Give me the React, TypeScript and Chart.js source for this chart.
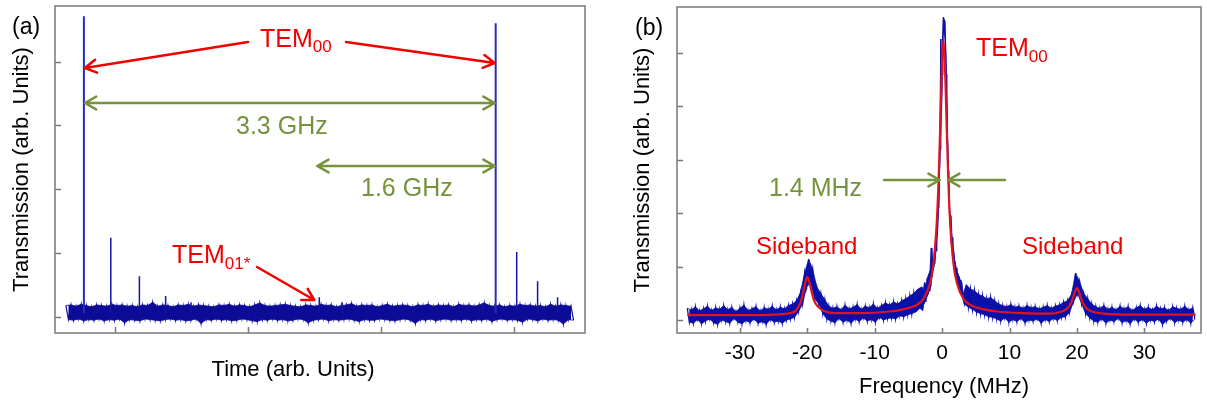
import React, { useEffect, useRef } from 'react';
import { Chart, registerables } from 'chart.js';

Chart.register(...registerables);

const FONT = '"Liberation Sans", Arial, Helvetica, sans-serif';
const RED = '#F20000';
const GREEN = '#76923C';
const FRAME = '#7A7A7A';
const NAVY_A = '#0C0C98';
const NAVY_B = '#0B10A8';

// ---------------- Panel (a): transmission vs time ----------------
const timeTicks = [1, 2, 3, 4];
const transTicksA = [0, 1, 2, 3, 4];
const timeRange = [0.551, 4.532];
const transRangeA = [-0.25, 4.87];
const noiseSpanA = [0.633, 4.446];
const noiseA = [
  0.18, -0.04, 0.19, -0.05, 0.17, -0.03, 0.2, -0.06, 0.18, -0.04, 0.16, -0.05, 0.19, -0.03, 0.18, -0.06, 0.17, -0.04, 0.2, -0.05,
  0.18, -0.03, 0.19, -0.09, 0.17, -0.04, 0.18, -0.05, 0.16, -0.06, 0.19, -0.03, 0.18, -0.04, 0.23, -0.05, 0.17, -0.06, 0.19, -0.04,
  0.18, -0.03, 0.16, -0.05, 0.19, -0.04, 0.18, -0.06, 0.2, -0.05, 0.17, -0.03, 0.19, -0.1, 0.18, -0.04, 0.17, -0.05, 0.16, -0.03,
  0.19, -0.05, 0.18, -0.04, 0.2, -0.06, 0.17, -0.05, 0.19, -0.03, 0.18, -0.04, 0.16, -0.06, 0.19, -0.07, 0.22, -0.04, 0.18, -0.05,
  0.17, -0.03, 0.18, -0.05, 0.19, -0.04, 0.2, -0.06, 0.18, -0.05, 0.17, -0.03, 0.16, -0.04, 0.19, -0.09, 0.18, -0.05, 0.17, -0.04,
  0.2, -0.03, 0.18, -0.06, 0.19, -0.04, 0.16, -0.05, 0.18, -0.04, 0.19, -0.03, 0.21, -0.05, 0.17, -0.07, 0.19, -0.04, 0.18, -0.05,
  0.19, -0.05, 0.16, -0.03, 0.18, -0.04, 0.2, -0.05, 0.17, -0.06, 0.18, -0.04, 0.19, -0.03, 0.18, -0.05, 0.16, -0.1, 0.19, -0.04,
  0.18, -0.05, 0.2, -0.03, 0.17, -0.06, 0.19, -0.04, 0.18, -0.03, 0.19, -0.05, 0.16, -0.04, 0.2, -0.05, 0.18, -0.03, 0.19, -0.06,
  0.17, -0.04, 0.19, -0.05, 0.22, -0.03, 0.18, -0.07, 0.17, -0.04, 0.19, -0.03, 0.16, -0.05, 0.18, -0.04, 0.17, -0.05, 0.2, -0.08,
  0.18, -0.03, 0.19, -0.04, 0.17, -0.06, 0.18, -0.03, 0.16, -0.05, 0.2, -0.04, 0.17, -0.05, 0.19, -0.11, 0.18, -0.04, 0.17, -0.05,
];
const tem00Times = [0.768, 3.861];
const tem00Heights = [4.71, 4.6];
const modeTimes = [0.97, 1.185, 1.382, 1.573, 2.536, 2.708, 3.764, 4.019, 4.176, 4.326];
const modeHeights = [1.24, 0.64, 0.33, 0.23, 0.31, 0.23, 0.22, 1.02, 0.56, 0.31];
const spikeBase = 0.06;

// ---------------- Panel (b): transmission vs frequency ----------------
const freqTicks = [-30, -20, -10, 0, 10, 20, 30];
const transTicksB = [0, 1, 2, 3, 4, 5];
const freqRange = [-39.33, 38.41];
const transRangeB = [-0.243, 5.86];
const blueLeftGrid = [-37.8, 0.3];
const blueLeft = [
  0.22, -0.04, 0.19, -0.06, 0.25, 0.01, 0.17, -0.07, 0.21, -0.02,
  0.26, 0.02, 0.18, -0.05, 0.23, -0.08, 0.2, 0.0, 0.27, -0.03,
  0.19, -0.06, 0.24, 0.03, 0.16, -0.04, 0.22, -0.07, 0.28, -0.01,
  0.18, -0.05, 0.21, 0.02, 0.25, -0.06, 0.17, -0.03, 0.23, -0.08,
  0.2, 0.01, 0.26, -0.04, 0.19, -0.02, 0.24, -0.06, 0.21, 0.0,
  0.27, 0.02, 0.3, 0.05, 0.36,
  0.16, 0.52, 0.3, 0.88, 0.62, 1.14, 0.7, 0.95, 0.4, 0.62, 0.3, 0.5, 0.12, 0.38, 0.02,
  0.26, -0.02, 0.22, -0.05, 0.25, 0.03, 0.19, -0.04, 0.28, 0.0,
  0.21, -0.06, 0.24, 0.02, 0.29, -0.03, 0.2, 0.04, 0.26, -0.02,
  0.23, 0.01, 0.3, -0.04, 0.22, 0.05, 0.27, 0.0, 0.32, 0.03,
  0.28, 0.04, 0.34, 0.02, 0.3, 0.08, 0.36, 0.06, 0.4, 0.1, 0.45, 0.12, 0.5, 0.15, 0.58, 0.22, 0.62,
];
const blueCenterGrid = [-3.0, 0.1];
const blueCenter = [
  0.62, 0.18, 0.55, 0.3, 0.7, 0.35, 0.66, 0.42, 0.78, 0.48,
  0.85, 0.55, 0.92, 0.62, 1.35, 0.8, 1.1, 0.95, 1.2, 1.05,
  1.4, 1.3, 1.75, 1.6, 2.25, 2.1, 2.8, 3.2, 5.26, 3.9,
  4.6, 5.3, 5.67, 5.45, 5.6, 5.2, 4.6, 4.1, 3.4, 2.8,
  2.5, 2.05, 1.8, 1.95, 1.4, 1.55, 1.15, 1.3, 0.95, 1.1,
  0.8, 0.98, 0.7, 0.88, 0.62, 0.82, 0.55, 0.75, 0.48, 0.7,
  0.45,
];
const blueRightGrid = [3.3, 0.3];
const blueRight = [
  0.3, 0.66, 0.24, 0.58, 0.2, 0.55, 0.15, 0.48, 0.12, 0.45, 0.1, 0.4, 0.06, 0.42, 0.05, 0.36,
  0.02, 0.3, -0.02, 0.27, 0.04, 0.25, -0.04, 0.29, 0.01, 0.24,
  -0.03, 0.26, 0.03, 0.22, -0.05, 0.27, 0.0, 0.23, -0.02, 0.25,
  0.02, 0.21, -0.06, 0.24, 0.01, 0.27, -0.03, 0.22, 0.03, 0.26,
  -0.01, 0.28, 0.05, 0.33,
  0.06, 0.36, 0.14, 0.48, 0.34, 0.88, 0.5, 0.72, 0.3, 0.5, 0.12, 0.4, 0.04, 0.3, -0.02,
  0.25, -0.04, 0.22, 0.02, 0.27, -0.06, 0.2, 0.0, 0.24, -0.03,
  0.19, 0.03, 0.26, -0.05, 0.21, -0.01, 0.25, -0.07, 0.18, 0.02,
  0.23, -0.04, 0.27, 0.01, 0.2, -0.06, 0.24, 0.0, 0.19, -0.03,
  0.26, 0.02, 0.21, -0.08, 0.23, -0.02, 0.18, 0.03, 0.25, -0.05,
  0.22, 0.0, 0.2, -0.04, 0.26, 0.01, 0.19, -0.06, 0.23, 0.02,
];
const fitFreq = [
  -37.8, -32, -28, -25, -23, -22, -21.5, -21, -20.6, -20.3, -20, -19.7, -19.4, -19, -18.5,
  -17.5, -16, -12, -7.8, -5.8, -3.8, -2.8, -1.8, -1.3, -0.8, -0.5, -0.2, 0, 0.2, 0.4,
  0.6, 0.9, 1.2, 1.7, 2.2, 3.2, 4.2, 6.2, 8.2, 12, 16, 17.5, 18.5, 19, 19.4,
  19.7, 20, 20.3, 20.6, 21, 21.5, 22.5, 24, 28, 37.6,
];
const fitValue = [
  0.09, 0.09, 0.09, 0.1, 0.12, 0.15, 0.21, 0.33, 0.52, 0.7, 0.81, 0.71, 0.55, 0.37, 0.26,
  0.17, 0.13, 0.13, 0.16, 0.2, 0.28, 0.39, 0.69, 1.04, 1.81, 2.69, 3.98, 4.85, 5.24, 4.85,
  3.98, 2.69, 1.81, 1.04, 0.69, 0.39, 0.28, 0.2, 0.16, 0.13, 0.12, 0.15, 0.21, 0.29, 0.41,
  0.53, 0.6, 0.53, 0.41, 0.29, 0.21, 0.15, 0.12, 0.1, 0.1,
];
const fitCenter = 0.2;
const fitHalfWidth = 0.7;

// ---------------- helpers ----------------
type Pt = { x: number; y: number | null };
function gridSeries(grid: number[], vals: number[]): Pt[] {
  return vals.map((v, i) => ({ x: grid[0] + i * grid[1], y: v }));
}
function spanSeries(span: number[], vals: number[]): Pt[] {
  const step = (span[1] - span[0]) / (vals.length - 1);
  return vals.map((v, i) => ({ x: span[0] + i * step, y: v }));
}
function parity(pts: Pt[], p: number): Pt[] {
  return pts.filter((_, i) => i % 2 === p);
}
function spikeSeries(times: number[], heights: number[]): Pt[] {
  const out: Pt[] = [];
  times.forEach((t, i) => {
    out.push({ x: t, y: spikeBase }, { x: t, y: heights[i] }, { x: t, y: spikeBase }, { x: t, y: null });
  });
  return out;
}

function head(ctx: CanvasRenderingContext2D, x1: number, y1: number, x2: number, y2: number) {
  const len = 13;
  const ang = 0.52;
  const a = Math.atan2(y2 - y1, x2 - x1);
  ctx.moveTo(x2 - len * Math.cos(a - ang), y2 - len * Math.sin(a - ang));
  ctx.lineTo(x2, y2);
  ctx.lineTo(x2 - len * Math.cos(a + ang), y2 - len * Math.sin(a + ang));
}
function arrow(ctx: CanvasRenderingContext2D, x1: number, y1: number, x2: number, y2: number, color: string, both = false) {
  ctx.save();
  ctx.strokeStyle = color;
  ctx.lineWidth = 2.5;
  ctx.lineCap = 'round';
  ctx.lineJoin = 'round';
  ctx.beginPath();
  ctx.moveTo(x1, y1);
  ctx.lineTo(x2, y2);
  head(ctx, x1, y1, x2, y2);
  if (both) head(ctx, x2, y2, x1, y1);
  ctx.stroke();
  ctx.restore();
}
function label(ctx: CanvasRenderingContext2D, s: string, x: number, y: number, size: number, color: string, align: CanvasTextAlign = 'left') {
  ctx.save();
  ctx.font = `${size}px ${FONT}`;
  ctx.fillStyle = color;
  ctx.textAlign = align;
  ctx.textBaseline = 'alphabetic';
  ctx.fillText(s, x, y);
  const w = ctx.measureText(s).width;
  ctx.restore();
  return w;
}
function tem(ctx: CanvasRenderingContext2D, sub: string, x: number, y: number) {
  const w = label(ctx, 'TEM', x, y, 25, RED);
  label(ctx, sub, x + w, y + 5.5, 17, RED);
}

function frameTicks(xt: number[], yt: number[], xLen: number, yLen: number) {
  return {
    id: 'frameTicks',
    beforeDatasetsDraw(chart: any) {
      const { ctx, chartArea: a, scales } = chart;
      ctx.save();
      ctx.strokeStyle = FRAME;
      ctx.lineWidth = 1.5;
      ctx.strokeRect(a.left, a.top, a.right - a.left, a.bottom - a.top);
      ctx.beginPath();
      xt.forEach((v) => {
        const px = Math.round(scales.x.getPixelForValue(v)) + 0.5;
        ctx.moveTo(px, a.bottom);
        ctx.lineTo(px, a.bottom - xLen);
      });
      yt.forEach((v) => {
        const py = Math.round(scales.y.getPixelForValue(v)) + 0.5;
        ctx.moveTo(a.left, py);
        ctx.lineTo(a.left + yLen, py);
      });
      ctx.stroke();
      ctx.restore();
    },
  };
}

const annotA = {
  id: 'annotA',
  afterDraw(chart: any) {
    const { ctx, scales } = chart;
    const x = scales.x;
    const p1 = x.getPixelForValue(tem00Times[0]);
    const p2 = x.getPixelForValue(tem00Times[1]);
    const m = x.getPixelForValue(modeTimes[4]);
    label(ctx, '(a)', 12, 34, 23, '#000');
    label(ctx, 'Time (arb. Units)', 293, 376, 22, '#000', 'center');
    tem(ctx, '00', 260, 46.5);
    arrow(ctx, 248, 42, p1 + 1, 68, RED);
    arrow(ctx, 346, 42, p2 - 1, 63, RED);
    arrow(ctx, p1 + 1, 103, p2 - 1, 103, GREEN, true);
    label(ctx, '3.3 GHz', 236, 134, 25, GREEN);
    arrow(ctx, m - 2, 166, p2 - 1, 166, GREEN, true);
    label(ctx, '1.6 GHz', 361, 196, 25, GREEN);
    tem(ctx, '01*', 172, 263);
    arrow(ctx, 257, 267, m - 5, 300, RED);
  },
};

const annotB = {
  id: 'annotB',
  afterDraw(chart: any) {
    const { ctx, scales } = chart;
    const x = scales.x;
    const tl = x.getPixelForValue(fitCenter - fitHalfWidth) + 1;
    const tr = x.getPixelForValue(fitCenter + fitHalfWidth);
    label(ctx, '(b)', 35, 34.5, 23, '#000');
    label(ctx, 'Frequency (MHz)', 344, 393, 22, '#000', 'center');
    tem(ctx, '00', 376, 56);
    label(ctx, '1.4 MHz', 169, 196, 25, GREEN);
    arrow(ctx, 284, 180, tl, 180, GREEN);
    arrow(ctx, 405, 180, tr, 180, GREEN);
    label(ctx, 'Sideband', 156, 254, 24, RED);
    label(ctx, 'Sideband', 422, 254, 24, RED);
  },
};

function yTitle(pad: number) {
  return {
    display: true,
    text: 'Transmission (arb. Units)',
    color: '#000',
    font: { family: FONT, size: 22 },
    padding: { top: pad, bottom: 0 },
  };
}

function configA(): any {
  const noise = spanSeries(noiseSpanA, noiseA);
  return {
    type: 'scatter',
    data: {
      datasets: [
        { data: spikeSeries(tem00Times, tem00Heights), showLine: true, borderColor: '#2A2AC2', borderWidth: 2, pointRadius: 0, spanGaps: false },
        { data: spikeSeries(modeTimes, modeHeights), showLine: true, borderColor: '#1414A6', borderWidth: 1.5, pointRadius: 0, spanGaps: false },
        { data: noise, showLine: true, borderColor: NAVY_A, borderWidth: 1.2, pointRadius: 0 },
        { data: parity(noise, 0), showLine: true, borderColor: NAVY_A, borderWidth: 0.8, pointRadius: 0, fill: '+1', backgroundColor: NAVY_A },
        { data: parity(noise, 1), showLine: true, borderColor: NAVY_A, borderWidth: 0.8, pointRadius: 0 },
      ],
    },
    options: {
      animation: false,
      responsive: false,
      maintainAspectRatio: false,
      devicePixelRatio: 1,
      layout: { padding: { top: 6, right: 15, left: 0, bottom: 0 } },
      plugins: { legend: { display: false }, tooltip: { enabled: false } },
      scales: {
        x: {
          type: 'linear',
          min: timeRange[0],
          max: timeRange[1],
          grid: { display: false, drawTicks: false },
          border: { display: false },
          ticks: { display: false },
          afterFit: (s: any) => {
            s.height = 70;
          },
        },
        y: {
          type: 'linear',
          min: transRangeA[0],
          max: transRangeA[1],
          grid: { display: false, drawTicks: false },
          border: { display: false },
          ticks: { display: false },
          title: yTitle(9),
          afterFit: (s: any) => {
            s.width = 55;
          },
        },
      },
    },
    plugins: [frameTicks(timeTicks, transTicksA, 6, 6), annotA],
  };
}

function configB(): any {
  const L = gridSeries(blueLeftGrid, blueLeft);
  const C = gridSeries(blueCenterGrid, blueCenter);
  const R = gridSeries(blueRightGrid, blueRight);
  return {
    type: 'scatter',
    data: {
      datasets: [
        {
          data: fitFreq.map((f, i) => ({ x: f, y: fitValue[i] })),
          showLine: true,
          borderColor: '#E0141E',
          borderWidth: 2.2,
          pointRadius: 0,
          cubicInterpolationMode: 'monotone',
        },
        { data: [...L, ...C, ...R], showLine: true, borderColor: NAVY_B, borderWidth: 1.3, pointRadius: 0 },
        {
          data: [...parity(L, 0), ...parity(C, 0), ...parity(R, 1)],
          showLine: true,
          borderColor: NAVY_B,
          borderWidth: 0.8,
          pointRadius: 0,
          fill: '+1',
          backgroundColor: NAVY_B,
        },
        { data: [...parity(L, 1), ...parity(C, 1), ...parity(R, 0)], showLine: true, borderColor: NAVY_B, borderWidth: 0.8, pointRadius: 0 },
      ],
    },
    options: {
      animation: false,
      responsive: false,
      maintainAspectRatio: false,
      devicePixelRatio: 1,
      layout: { padding: { top: 7, right: 6, left: 0, bottom: 0 } },
      plugins: { legend: { display: false }, tooltip: { enabled: false } },
      scales: {
        x: {
          type: 'linear',
          min: freqRange[0],
          max: freqRange[1],
          grid: { display: false, drawTicks: false },
          border: { display: false },
          ticks: {
            stepSize: 10,
            includeBounds: false,
            color: '#000',
            padding: 8,
            maxRotation: 0,
            font: { family: FONT, size: 21 },
          },
          afterBuildTicks: (s: any) => {
            s.ticks = freqTicks.map((v) => ({ value: v }));
          },
          afterFit: (s: any) => {
            s.height = 70;
          },
        },
        y: {
          type: 'linear',
          min: transRangeB[0],
          max: transRangeB[1],
          grid: { display: false, drawTicks: false },
          border: { display: false },
          ticks: { display: false },
          title: yTitle(30),
          afterFit: (s: any) => {
            s.width = 77;
          },
        },
      },
    },
    plugins: [frameTicks(freqTicks, transTicksB, 5, 6), annotB],
  };
}

function Panel({ make, left, width }: { make: () => any; left: number; width: number }) {
  const ref = useRef<HTMLCanvasElement>(null);
  useEffect(() => {
    const chart = new Chart(ref.current as HTMLCanvasElement, make());
    return () => chart.destroy();
  }, []);
  return (
    <canvas
      ref={ref}
      width={width}
      height={403}
      style={{ position: 'absolute', left, top: 0, width, height: 403 }}
    />
  );
}

export default function App() {
  return (
    <div style={{ position: 'fixed', left: 0, top: 0, width: 1207, height: 403, background: '#fff' }}>
      <Panel make={configA} left={0} width={600} />
      <Panel make={configB} left={600} width={607} />
    </div>
  );
}
